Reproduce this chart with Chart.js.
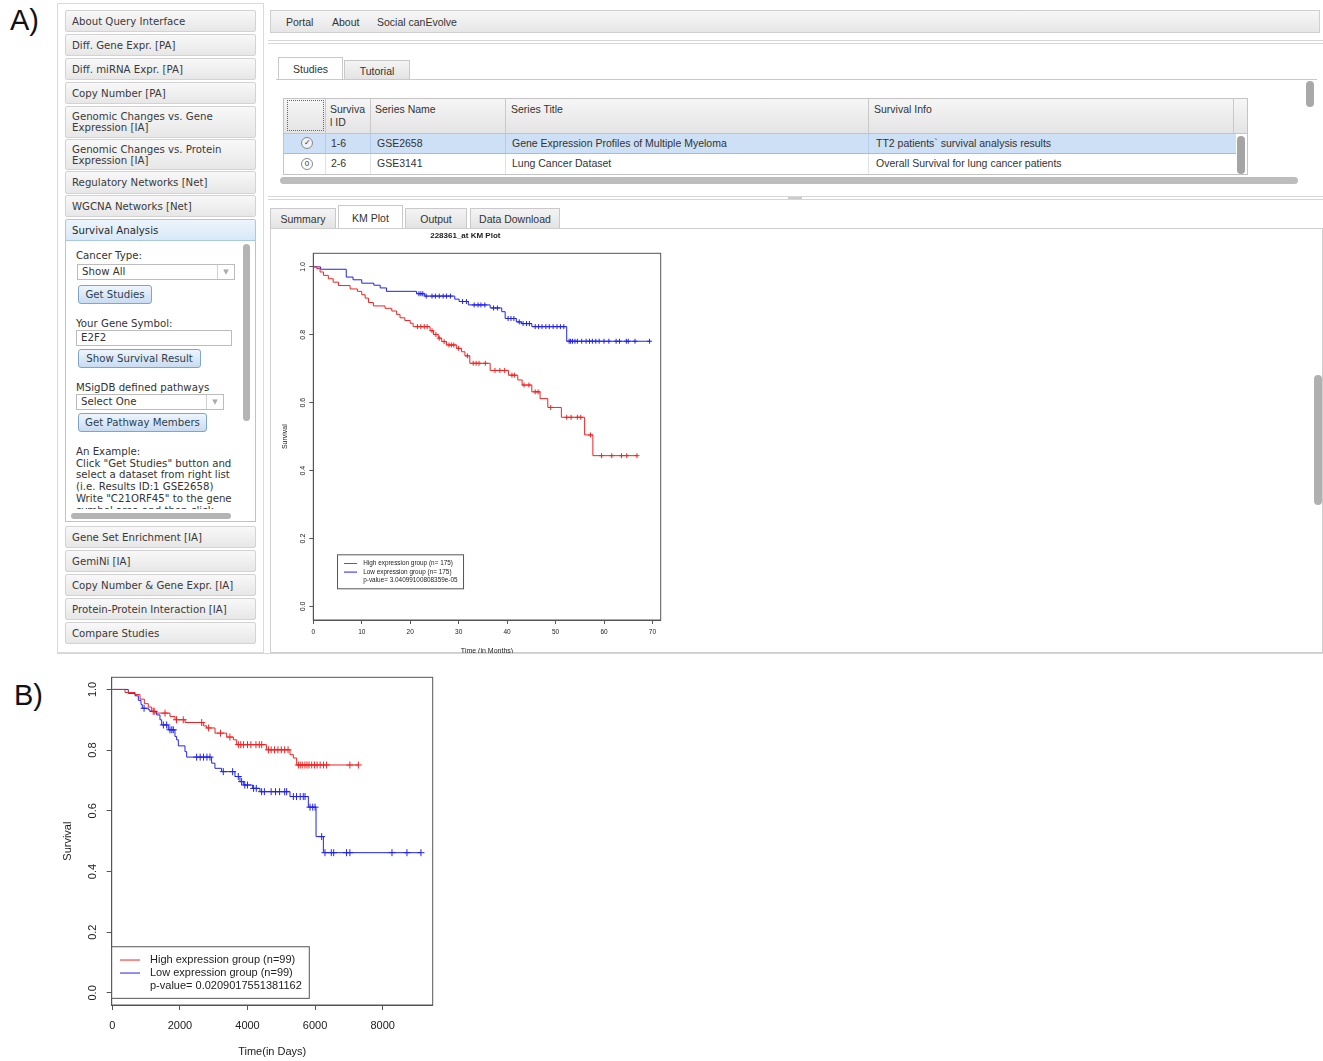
<!DOCTYPE html>
<html>
<head>
<meta charset="utf-8">
<script src="https://cdn.jsdelivr.net/npm/chart.js@4.4.0/dist/chart.umd.min.js"></script>
<style>
  body { margin: 0; width: 1323px; height: 1061px; background: #fff; position: relative; overflow: hidden;
         font-family: "DejaVu Sans", sans-serif; color: #333; }
  .abs { position: absolute; }
  .big { font-family: "Liberation Sans", Arial, sans-serif; font-size: 29px; color: #111; }
  .menu { position: absolute; left: 65px; width: 191px; border: 1px solid #d3d3d3; border-radius: 2px;
          background: linear-gradient(#f8f8f8, #e7e7e7); font-size: 10.2px; color: #3a3a3a;
          padding-left: 6px; box-sizing: border-box; display: flex; align-items: center; line-height: 11px; }
  .menu.open { background: linear-gradient(#edf5fd, #d9e8f7); border-color: #a9c8e6; color: #2a2a2a; }
  .lbl { position: absolute; font-size: 10.2px; color: #333; white-space: nowrap; line-height: 12px; }
  .btn { position: absolute; height: 19px; box-sizing: border-box; border: 1px solid #7ea5cd; border-radius: 3px;
         background: linear-gradient(#eef5fc, #c8dcf1); font-size: 10.2px; color: #2c3e50; display: flex;
         align-items: center; justify-content: center; }
  .sel { position: absolute; height: 16px; box-sizing: border-box; border: 1px solid #bcbcbc; background: #fff;
         font-size: 10.2px; color: #333; padding-left: 4px; line-height: 14px; }
  .sel .arr { position: absolute; right: 0; top: 0; width: 16px; height: 14px; border-left: 1px solid #d0d0d0;
              color: #aaa; font-size: 7px; text-align: center; line-height: 14px; }
  .ui { font-family: "Liberation Sans", Arial, sans-serif; font-size: 10.5px; color: #333; white-space: nowrap; }
  .tab { position: absolute; box-sizing: border-box; border: 1px solid #c9c9c9; border-bottom: none;
         background: linear-gradient(#f4f4f4, #e3e3e3); display: flex; align-items: center; justify-content: center; }
  .tab.on { background: #fff; }
  .cell { position: absolute; top: 0; height: 100%; border-left: 1px solid #c9c9c9; }
  .thumb { position: absolute; background: #b4b4b4; border-radius: 4px; }
</style>
</head>
<body>

<div class="abs big" style="left:10px; top:4px;">A)</div>
<div class="abs big" style="left:14px; top:679px;">B)</div>

<!-- left navigation panel -->
<div class="abs" style="left:57px; top:3px; width:207px; height:650px; border:1px solid #dadada; box-sizing:border-box;"></div>
<div class="menu" style="top:10px; height:22px;">About Query Interface</div>
<div class="menu" style="top:34px; height:22px;">Diff. Gene Expr. [PA]</div>
<div class="menu" style="top:58px; height:22px;">Diff. miRNA Expr. [PA]</div>
<div class="menu" style="top:82px; height:22px;">Copy Number [PA]</div>
<div class="menu" style="top:106px; height:32px;">Genomic Changes vs. Gene<br>Expression [IA]</div>
<div class="menu" style="top:139px; height:31px;">Genomic Changes vs. Protein<br>Expression [IA]</div>
<div class="menu" style="top:171px; height:23px;">Regulatory Networks [Net]</div>
<div class="menu" style="top:195px; height:22px;">WGCNA Networks [Net]</div>
<div class="menu open" style="top:219px; height:22px;">Survival Analysis</div>
<div class="abs" style="left:65px; top:240px; width:191px; height:282px; border:1px solid #a9c8e6; box-sizing:border-box; background:#fff; overflow:hidden;">
  <div class="lbl" style="left:10px; top:9px;">Cancer Type:</div>
  <div class="sel" style="left:11px; top:23px; width:158px;">Show All<div class="arr">&#9660;</div></div>
  <div class="btn" style="left:12px; top:44px; width:74px;">Get Studies</div>
  <div class="lbl" style="left:10px; top:77px;">Your Gene Symbol:</div>
  <div class="sel" style="left:10px; top:89px; width:156px;">E2F2</div>
  <div class="btn" style="left:12px; top:108px; width:123px;">Show Survival Result</div>
  <div class="lbl" style="left:10px; top:141px;">MSigDB defined pathways</div>
  <div class="sel" style="left:10px; top:153px; width:148px;">Select One<div class="arr">&#9660;</div></div>
  <div class="btn" style="left:12px; top:172px; width:129px;">Get Pathway Members</div>
  <div class="lbl" style="left:10px; top:205px; line-height:11.7px; height:65px; overflow:hidden;">An Example:<br>Click "Get Studies" button and<br>select a dataset from right list<br>(i.e. Results ID:1 GSE2658)<br>Write "C21ORF45" to the gene<br>symbol area and then click</div>
  <div class="thumb" style="left:177px; top:3px; width:7px; height:177px;"></div>
  <div class="abs" style="left:0; top:268px; width:189px; height:12px; background:#fff;"></div>
  <div class="thumb" style="left:5px; top:272px; width:160px; height:6px;"></div>
</div>
<div class="menu" style="top:526px; height:22px;">Gene Set Enrichment [IA]</div>
<div class="menu" style="top:550px; height:22px;">GemiNi [IA]</div>
<div class="menu" style="top:574px; height:22px;">Copy Number &amp; Gene Expr. [IA]</div>
<div class="menu" style="top:598px; height:22px;">Protein-Protein Interaction [IA]</div>
<div class="menu" style="top:622px; height:22px;">Compare Studies</div>

<!-- top navigation -->
<div class="abs ui" style="left:270px; top:10px; width:1050px; height:23px; border:1px solid #cfcfcf; box-sizing:border-box; background:linear-gradient(#f7f7f7,#e6e6e6);">
  <span class="abs" style="left:15px; top:5px;">Portal</span>
  <span class="abs" style="left:61px; top:5px;">About</span>
  <span class="abs" style="left:106px; top:5px;">Social canEvolve</span>
</div>
<div class="abs" style="left:268px; top:40px; width:1055px; height:4px; border-top:1px solid #d6d6d6; border-bottom:1px solid #d6d6d6; box-sizing:border-box;"></div>

<!-- studies panel -->
<div class="tab on ui" style="left:278px; top:57px; width:65px; height:23px;">Studies</div>
<div class="tab ui" style="left:344px; top:60px; width:66px; height:20px;">Tutorial</div>
<div class="abs" style="left:276px; top:79px; width:1041px; height:111px; border-top:1px solid #c9c9c9;"></div>
<div class="thumb" style="left:1306px; top:81px; width:8px; height:26px; background:#a9a9a9;"></div>
<div class="abs ui" style="left:283px; top:98px; width:965px; height:77px; border:1px solid #c4c4c4; box-sizing:border-box; overflow:hidden;">
  <div class="abs" style="left:0; top:0; width:965px; height:34px; background:linear-gradient(#f6f6f6,#e4e4e4); border-bottom:1px solid #c4c4c4;">
    <div class="abs" style="left:3px; top:1px; width:37px; height:31px; border:1px dotted #4a6a9a; box-sizing:border-box;"></div>
    <div class="cell" style="left:41px;"></div><div class="cell" style="left:86px;"></div>
    <div class="cell" style="left:221px;"></div><div class="cell" style="left:584px;"></div><div class="cell" style="left:949px;"></div>
    <span class="abs" style="left:46px; top:4px; line-height:13px;">Surviva<br>l ID</span>
    <span class="abs" style="left:91px; top:4px;">Series Name</span>
    <span class="abs" style="left:227px; top:4px;">Series Title</span>
    <span class="abs" style="left:590px; top:4px;">Survival Info</span>
  </div>
  <div class="abs" style="left:0; top:35px; width:952px; height:20px; background:#cde0f5; border-bottom:1px solid #9fbfe0; box-sizing:border-box;">
    <div class="cell" style="left:41px; border-color:#b5cde8;"></div><div class="cell" style="left:86px; border-color:#b5cde8;"></div>
    <div class="cell" style="left:221px; border-color:#b5cde8;"></div><div class="cell" style="left:584px; border-color:#b5cde8;"></div>
    <span class="abs" style="left:17px; top:3px; width:10px; height:10px; border:1px solid #888; border-radius:50%; font-size:8px; line-height:10px; text-align:center; background:#eef3f9;">&#10003;</span>
    <span class="abs" style="left:47px; top:3px;">1-6</span>
    <span class="abs" style="left:93px; top:3px;">GSE2658</span>
    <span class="abs" style="left:228px; top:3px;">Gene Expression Profiles of Multiple Myeloma</span>
    <span class="abs" style="left:592px; top:3px;">TT2 patients` survival analysis results</span>
  </div>
  <div class="abs" style="left:0; top:55px; width:952px; height:20px; background:#fff;">
    <div class="cell" style="left:41px; border-color:#e2e2e2;"></div><div class="cell" style="left:86px; border-color:#e2e2e2;"></div>
    <div class="cell" style="left:221px; border-color:#e2e2e2;"></div><div class="cell" style="left:584px; border-color:#e2e2e2;"></div>
    <span class="abs" style="left:17px; top:4px; width:10px; height:10px; border:1px solid #888; border-radius:50%; font-size:8px; line-height:10px; text-align:center;">0</span>
    <span class="abs" style="left:47px; top:3px;">2-6</span>
    <span class="abs" style="left:93px; top:3px;">GSE3141</span>
    <span class="abs" style="left:228px; top:3px;">Lung Cancer Dataset</span>
    <span class="abs" style="left:592px; top:3px;">Overall Survival for lung cancer patients</span>
  </div>
  <div class="thumb" style="left:953px; top:37px; width:8px; height:38px; background:#a5a5a5;"></div>
</div>
<div class="thumb" style="left:280px; top:177px; width:1018px; height:7px; background:#bdbdbd;"></div>
<div class="abs" style="left:268px; top:196px; width:1055px; height:4px; border-top:1px solid #d6d6d6; border-bottom:1px solid #d6d6d6; box-sizing:border-box;"></div>
<div class="abs" style="left:788px; top:197px; width:14px; height:2px; background:#ccc;"></div>

<!-- lower output panel -->
<div class="tab ui" style="left:270px; top:208px; width:66px; height:20px;">Summary</div>
<div class="tab on ui" style="left:338px; top:205px; width:65px; height:24px;">KM Plot</div>
<div class="tab ui" style="left:405px; top:208px; width:62px; height:20px;">Output</div>
<div class="tab ui" style="left:470px; top:208px; width:90px; height:20px;">Data Download</div>
<div class="abs" style="left:270px; top:228px; width:1053px; height:425px; border:1px solid #cfcfcf; box-sizing:border-box;"></div>
<div class="thumb" style="left:1314px; top:375px; width:8px; height:130px; background:#b0b0b0;"></div>
<div class="abs" style="left:57px; top:653px; width:1266px; height:1px; background:#d6d6d6;"></div>

<div class="abs" style="left:270px; top:228px; width:400px; height:425px; overflow:hidden;">
  <canvas id="kmA" width="400" height="430"></canvas>
</div>
<div class="abs" style="left:55px; top:668px; width:385px; height:393px;">
  <canvas id="kmB" width="385" height="393"></canvas>
</div>

<script>
// ---- chart values ----
const yTicks = [0, 0.2, 0.4, 0.6, 0.8, 1.0];
const xTicksA = [0, 10, 20, 30, 40, 50, 60, 70];
const xTicksB = [0, 2000, 4000, 6000, 8000];

// A) months: drop times and survival after each drop, plus censored times
const highA_time = [0, 0.7, 1.4, 2.1, 3.1, 4.1, 5.2, 7.6, 9.1, 10, 10.7, 11.4, 12.4, 14.8, 16.2, 17.2, 17.9, 18.9, 20, 20.6,
  24.1, 24.8, 25.8, 26.5, 27.5, 29.6, 30.6, 31.3, 32.3, 36.5, 40.3, 42.2, 43.1, 45.1, 46.8, 48.4, 51.2, 56, 57.7];
const highA_surv = [1, 0.995, 0.985, 0.975, 0.965, 0.955, 0.945, 0.935, 0.928, 0.918, 0.908, 0.895, 0.885, 0.878, 0.87, 0.86, 0.85, 0.842, 0.834, 0.824,
  0.812, 0.801, 0.79, 0.78, 0.77, 0.76, 0.75, 0.738, 0.716, 0.695, 0.681, 0.667, 0.652, 0.632, 0.612, 0.586, 0.557, 0.505, 0.444];
const highA_cens = [21.5, 22.2, 22.9, 23.5, 24.5, 25.3, 26, 27, 28, 28.5, 29, 30, 31.8, 33, 33.6, 34.2, 35.5, 37.5, 38.5, 39.5,
  41, 41.5, 43.5, 44.5, 45.8, 46.4, 49, 52.3, 53.2, 54.5, 55.2, 57.2, 59.5, 61.6, 63.6, 64.7, 66.8];

const lowA_time = [0, 1.5, 6.8, 8.2, 10, 12.5, 13.8, 15.1, 21.3, 23, 29.2, 30.1, 32, 36.5, 38.9, 39.6, 41.9, 43, 45.1, 52.3];
const lowA_surv = [1, 0.993, 0.97, 0.962, 0.952, 0.946, 0.938, 0.928, 0.921, 0.914, 0.905, 0.898, 0.888, 0.879, 0.868, 0.848, 0.838, 0.833, 0.824, 0.781];
const lowA_cens = [21.8, 22.2, 22.6, 23.3, 24.5, 25.2, 26, 26.8, 27.5, 28.3, 30.8, 31.6, 33.2, 34, 34.6, 35.4, 37.2, 38,
  40.2, 40.8, 41.4, 42.5, 43.3, 44, 44.6, 45.8, 46.5, 47.2, 48, 48.7, 49.5, 50.3, 51, 51.7,
  52.8, 53.1, 53.5, 54, 54.5, 55.4, 56.3, 57, 57.6, 58.3, 59, 60, 61, 62.5, 63.2, 64.6, 65, 66.4, 69.4];

// B) days
const highB_time = [0, 376, 672, 820, 948, 1066, 1165, 1264, 1707, 1855, 2151, 2694, 2792, 3039, 3384, 3582, 3680, 4560, 5258, 5357, 5455];
const highB_surv = [1, 0.99, 0.983, 0.968, 0.953, 0.942, 0.928, 0.922, 0.911, 0.9, 0.891, 0.88, 0.873, 0.856, 0.843, 0.834, 0.818, 0.801, 0.785, 0.774, 0.751];
const highB_cens = [1210, 1240, 1560, 1900, 2100, 2645, 2850, 3200, 3480, 3730, 3800, 3880, 4000, 4100, 4250, 4350, 4420,
  4620, 4700, 4800, 4900, 5000, 5100, 5200, 5505, 5560, 5620, 5700, 5760, 5820, 5900, 5980, 6060, 6150, 6250, 6340, 7030, 7280];

const lowB_time = [0, 473, 672, 770, 849, 888, 1066, 1114, 1312, 1410, 1460, 1657, 1854, 1903, 1953, 2150, 2200, 2939, 3037, 3235,
  3629, 3777, 3876, 4152, 4369, 5258, 5800, 6028, 6245];
const lowB_surv = [1, 0.987, 0.979, 0.964, 0.95, 0.938, 0.933, 0.927, 0.916, 0.9, 0.883, 0.867, 0.845, 0.834, 0.814, 0.795, 0.777, 0.757, 0.74, 0.729,
  0.713, 0.696, 0.685, 0.674, 0.663, 0.647, 0.612, 0.515, 0.462];
const lowB_cens = [940, 1510, 1608, 1706, 1760, 1805, 2495, 2600, 2700, 2800, 2890, 3284, 3560, 3728, 3826, 3920, 4000, 4180, 4260,
  4418, 4500, 4700, 4830, 4950, 5100, 5158, 5357, 5450, 5560, 5650, 5702, 5850, 5930, 6000, 6195,
  6292, 6480, 6550, 6930, 7030, 8275, 8718, 9132];

const legendA = ['High expression group (n= 175)', 'Low expression group (n= 175)', 'p-value= 3.04099100808359e-05'];
const legendB = ['High expression group (n=99)', 'Low expression group (n=99)', 'p-value= 0.0209017551381162'];

const RED = 'rgb(244,34,34)';
const BLUE = 'rgb(34,34,238)';

Chart.defaults.font.family = '"Liberation Sans", Arial, sans-serif';
Chart.defaults.color = '#222';

function stepPoints(times, surv, cens) {
  const pts = times.map((t, i) => ({x: t, y: surv[i]}));
  pts.push({x: Math.max(times[times.length - 1], ...cens), y: surv[surv.length - 1]});
  return pts;
}

function censorPoints(times, surv, cens) {
  return cens.map(c => {
    let k = 0;
    for (let i = 0; i < times.length; i++) if (times[i] <= c) k = i;
    return {x: c, y: surv[k]};
  });
}

// box, rotated y labels and the R style legend
const rStyle = {
  id: 'rStyle',
  afterDraw(chart, args, o) {
    const {ctx, chartArea: a, scales: {x, y}} = chart;
    ctx.save();
    ctx.strokeStyle = '#555';
    ctx.lineWidth = 1;
    ctx.strokeRect(a.left, a.top, a.right - a.left, a.bottom - a.top);

    ctx.fillStyle = '#222';
    ctx.font = o.tickFont;
    ctx.textAlign = 'center';
    ctx.textBaseline = 'middle';
    y.ticks.forEach(t => {
      ctx.save();
      ctx.translate(a.left - o.labelGap, y.getPixelForValue(t.value));
      ctx.rotate(-Math.PI / 2);
      ctx.fillText(t.value.toFixed(1), 0, 0);
      ctx.restore();
    });

    const lg = o.legend;
    const lx = x.getPixelForValue(lg.x), ly = y.getPixelForValue(lg.y);
    ctx.fillStyle = '#fff';
    ctx.fillRect(lx, ly, lg.w, lg.h);
    ctx.strokeStyle = '#555';
    ctx.strokeRect(lx, ly, lg.w, lg.h);
    ctx.font = lg.font;
    ctx.textAlign = 'left';
    lg.text.forEach((s, i) => {
      const ry = ly + lg.row0 + i * lg.rowH;
      if (lg.colors[i]) {
        ctx.strokeStyle = lg.colors[i];
        ctx.beginPath();
        ctx.moveTo(lx + lg.seg[0], ry);
        ctx.lineTo(lx + lg.seg[1], ry);
        ctx.stroke();
      }
      ctx.fillStyle = '#222';
      ctx.fillText(s, lx + lg.textX, ry);
    });
    ctx.restore();
  }
};

function kmChart(id, cfg) {
  const ds = [
    {type: 'line', data: stepPoints(cfg.high[0], cfg.high[1], cfg.high[2]), borderColor: RED, borderWidth: 1, stepped: 'before', pointRadius: 0},
    {type: 'line', data: stepPoints(cfg.low[0], cfg.low[1], cfg.low[2]), borderColor: BLUE, borderWidth: 1, stepped: 'before', pointRadius: 0},
    {type: 'scatter', data: censorPoints(cfg.high[0], cfg.high[1], cfg.high[2]), pointStyle: 'cross', pointRadius: cfg.cross,
      borderColor: RED, pointBorderColor: RED, pointBorderWidth: 1, showLine: false},
    {type: 'scatter', data: censorPoints(cfg.low[0], cfg.low[1], cfg.low[2]), pointStyle: 'cross', pointRadius: cfg.cross,
      borderColor: BLUE, pointBorderColor: BLUE, pointBorderWidth: 1, showLine: false}
  ];
  return new Chart(document.getElementById(id), {
    type: 'line',
    data: {datasets: ds},
    plugins: [rStyle],
    options: {
      responsive: false,
      animation: false,
      devicePixelRatio: 1,
      layout: {padding: cfg.padding},
      plugins: {
        legend: {display: false},
        tooltip: {enabled: false},
        title: cfg.title,
        rStyle: {tickFont: cfg.tickFont, labelGap: cfg.labelGap, legend: cfg.legend}
      },
      scales: {
        x: {
          type: 'linear', min: cfg.xMin, max: cfg.xMax,
          afterBuildTicks: s => { s.ticks = cfg.xTicks.map(v => ({value: v})); },
          afterFit: s => { s.height = cfg.xHeight; },
          ticks: {font: {size: cfg.tickSize}, padding: cfg.tickPad, maxRotation: 0, autoSkip: false, callback: v => String(v)},
          grid: {drawOnChartArea: false, drawTicks: true, tickLength: cfg.tickLen, color: '#555'},
          border: {display: true, color: '#555'},
          title: {display: true, text: cfg.xTitle, font: {size: cfg.titleSize}, padding: {top: 0, bottom: cfg.xTitlePad}}
        },
        y: {
          type: 'linear', min: -0.04, max: 1.04,
          afterBuildTicks: s => { s.ticks = yTicks.map(v => ({value: v})); },
          afterFit: s => { s.width = cfg.yWidth; },
          ticks: {display: false},
          grid: {drawOnChartArea: false, drawTicks: true, tickLength: cfg.tickLen, color: '#555'},
          border: {display: true, color: '#555'},
          title: {display: true, text: 'Survival', font: {size: cfg.titleSize}, padding: {top: cfg.yTitlePad, bottom: 0}}
        }
      }
    }
  });
}

kmChart('kmA', {
  high: [highA_time, highA_surv, highA_cens],
  low: [lowA_time, lowA_surv, lowA_cens],
  xTicks: xTicksA, xMin: 0, xMax: 71.7,
  padding: {left: 0, top: 0, right: 9.3, bottom: 0},
  title: {display: true, text: '228361_at KM Plot', color: '#222', font: {size: 8, weight: 'bold'}, padding: {top: 3.2, bottom: 12.5}},
  xHeight: 38, yWidth: 43.3, tickLen: 4, tickSize: 6.5, tickPad: 4, tickFont: '7px "Liberation Sans", Arial, sans-serif',
  labelGap: 10.6, titleSize: 7, xTitle: 'Time (in Months)', xTitlePad: 2.8, yTitlePad: 10.8, cross: 2.5,
  legend: {x: 5, y: 0.152, w: 126, h: 34, font: '6.4px "Liberation Sans", Arial, sans-serif', row0: 8.7, rowH: 8.6,
    seg: [6.5, 19.5], textX: 25.7, text: legendA, colors: [RED, BLUE, null]}
});

kmChart('kmB', {
  high: [highB_time, highB_surv, highB_cens],
  low: [lowB_time, lowB_surv, lowB_cens],
  xTicks: xTicksB, xMin: -18, xMax: 9480,
  padding: {left: 0, top: 9.3, right: 7.3, bottom: 0},
  title: {display: false},
  xHeight: 56, yWidth: 56.7, tickLen: 5, tickSize: 11, tickPad: 9, tickFont: '11px "Liberation Sans", Arial, sans-serif',
  labelGap: 18.7, titleSize: 11, xTitle: 'Time(in Days)', xTitlePad: 2.4, yTitlePad: 6.4, cross: 3.5,
  legend: {x: -18, y: 0.152, w: 197.6, h: 51.6, font: '11px "Liberation Sans", Arial, sans-serif', row0: 13.3, rowH: 13,
    seg: [8.3, 28.3], textX: 38.3, text: legendB, colors: [RED, BLUE, null]}
});
</script>
</body>
</html>
